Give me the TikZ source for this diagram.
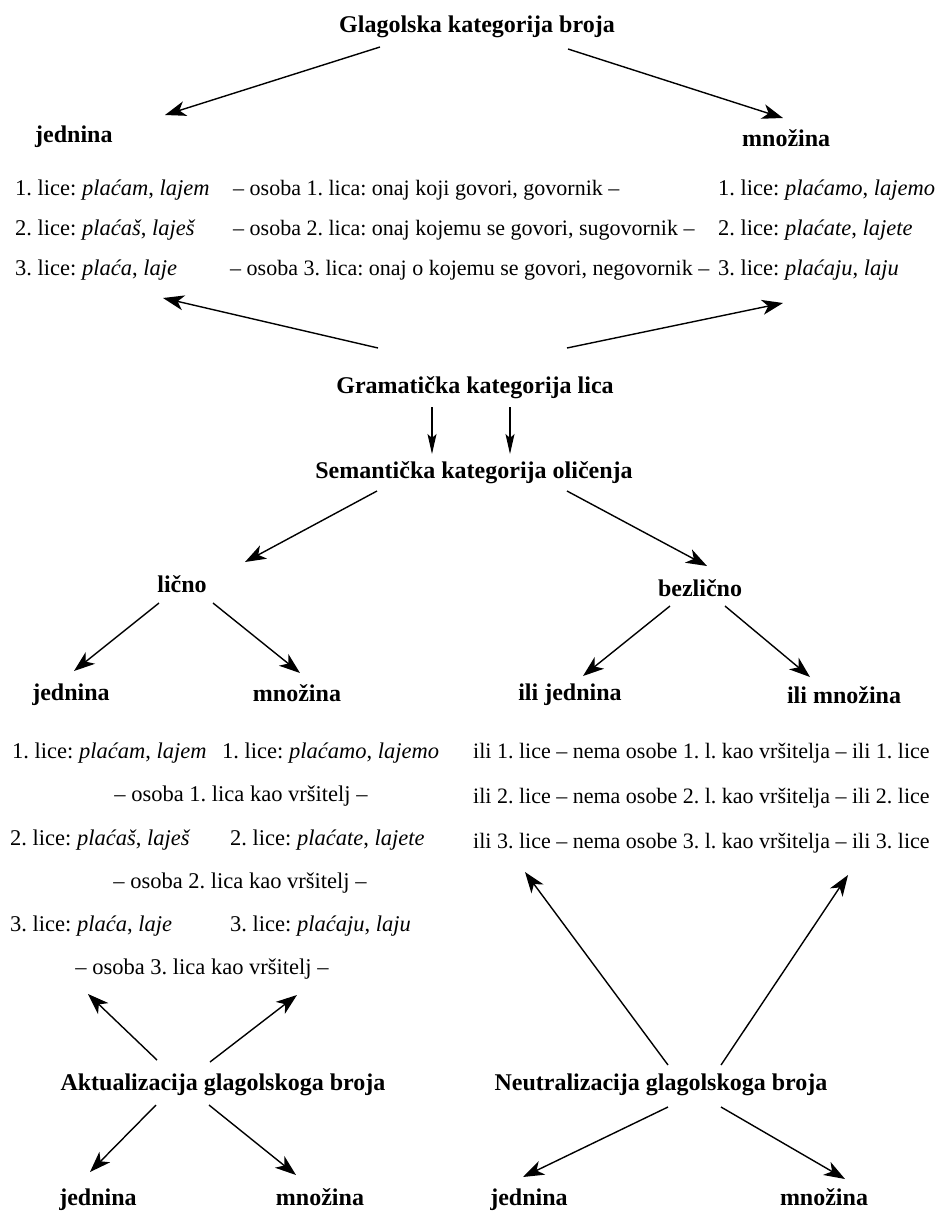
\documentclass[tikz,border=0pt]{standalone}
\usepackage{fontspec}
\setmainfont{Liberation Serif}
\frenchspacing
\usetikzlibrary{arrows.meta,calc}

\begin{document}
\begin{tikzpicture}[x = 1pt, y = -1pt,
        head/.style = {inner sep = 0pt, anchor = base, font = \fontsize{24}{28}\selectfont\bfseries},
        txt/.style = {inner sep = 0pt, anchor = base west, font = \fontsize{22.5}{27}\selectfont},
        small txt/.style = {txt, font = \fontsize{22}{26}\selectfont},
        link/.style = {-{Stealth[length = 21pt, width = 15pt, inset = 6pt]}, line width = 1.4pt},
        thin link/.style = {-{Stealth[length = 20pt, width = 9pt, inset = 4pt]}, line width = 1.2pt}]
        \useasboundingbox (0, 0) rectangle (941, 1211);

        % Nodes: glagolska kategorija broja
        \node [head] (gkb) at (477, 32) {Glagolska kategorija broja};
        \node [head, anchor = base west] (jedA) at (35, 142) {jednina};
        \node [head, anchor = base west] (mnoA) at (742, 146) {množina};

        \node [txt] (r1a) at (15, 195) {1. lice: \textit{plaćam}, \textit{lajem}};
        \node [small txt] (r1b) at (233, 195) {– osoba 1. lica: onaj koji govori, govornik –};
        \node [txt] (r1c) at (718, 195) {1. lice: \textit{plaćamo}, \textit{lajemo}};
        \node [txt] (r2a) at (15, 235) {2. lice: \textit{plaćaš}, \textit{laješ}};
        \node [small txt] (r2b) at (233, 235) {– osoba 2. lica: onaj kojemu se govori, sugovornik –};
        \node [txt] (r2c) at (718, 235) {2. lice: \textit{plaćate}, \textit{lajete}};
        \node [txt] (r3a) at (15, 275) {3. lice: \textit{plaća}, \textit{laje}};
        \node [small txt] (r3b) at (230, 275) {– osoba 3. lica: onaj o kojemu se govori, negovornik –};
        \node [txt] (r3c) at (718, 275) {3. lice: \textit{plaćaju}, \textit{laju}};

        % Nodes: lice i oličenje
        \node [head] (gkl) at (475, 393) {Gramatička kategorija lica};
        \node [head] (skl) at (474, 478) {Semantička kategorija oličenja};
        \node [head] (licno) at (182, 592) {lično};
        \node [head] (bezl) at (700, 596) {bezlično};
        \node [head] (jedB) at (71, 700) {jednina};
        \node [head] (mnoB) at (297, 701) {množina};
        \node [head] (ilij) at (570, 700) {ili jednina};
        \node [head] (ilim) at (844, 703) {ili množina};

        \node [txt] (l1a) at (12, 758) {1. lice: \textit{plaćam}, \textit{lajem}};
        \node [txt] (l1b) at (222, 758) {1. lice: \textit{plaćamo}, \textit{lajemo}};
        \node [txt, anchor = base] (o1) at (241, 801) {– osoba 1. lica kao vršitelj –};
        \node [txt] (l2a) at (10, 845) {2. lice: \textit{plaćaš}, \textit{laješ}};
        \node [txt] (l2b) at (230, 845) {2. lice: \textit{plaćate}, \textit{lajete}};
        \node [txt, anchor = base] (o2) at (240, 888) {– osoba 2. lica kao vršitelj –};
        \node [txt] (l3a) at (10, 931) {3. lice: \textit{plaća}, \textit{laje}};
        \node [txt] (l3b) at (230, 931) {3. lice: \textit{plaćaju}, \textit{laju}};
        \node [txt, anchor = base] (o3) at (202, 974) {– osoba 3. lica kao vršitelj –};

        \node [small txt] (i1) at (473, 758) {ili 1. lice – nema osobe 1. l. kao vršitelja – ili 1. lice};
        \node [small txt] (i2) at (473, 803) {ili 2. lice – nema osobe 2. l. kao vršitelja – ili 2. lice};
        \node [small txt] (i3) at (473, 848) {ili 3. lice – nema osobe 3. l. kao vršitelja – ili 3. lice};

        % Nodes: aktualizacija / neutralizacija
        \node [head] (akt) at (223, 1090) {Aktualizacija glagolskoga broja};
        \node [head] (jedC) at (98, 1205) {jednina};
        \node [head] (mnoC) at (320, 1205) {množina};
        \node [head] (neu) at (661, 1090) {Neutralizacija glagolskoga broja};
        \node [head] (jedD) at (529, 1205) {jednina};
        \node [head] (mnoD) at (824, 1205) {množina};

        % Draw the links
        \draw [link] ($(gkb.base) + (-97, 15)$) -- ($(jedA.base west) + (130, -27)$);
        \draw [link] ($(gkb.base) + (91, 17)$) -- ($(mnoA.base west) + (41, -28)$);
        \draw [link] ($(gkl.base) + (-97, -45)$) -- ($(r3a.base west) + (148, 23)$);
        \draw [link] ($(gkl.base) + (92, -45)$) -- ($(r3c.base west) + (65, 28)$);

        \draw [thin link] ($(gkl.base) + (-43, 14)$) -- ($(skl.base) + (-42, -24)$);
        \draw [thin link] ($(gkl.base) + (35, 14)$) -- ($(skl.base) + (36, -24)$);

        \draw [link] ($(skl.base) + (-97, 13)$) -- ($(licno.base) + (63, -30)$);
        \draw [link] ($(skl.base) + (93, 13)$) -- ($(bezl.base) + (7, -30)$);
        \draw [link] ($(licno.base) + (-23, 11)$) -- ($(jedB.base) + (3, -29)$);
        \draw [link] ($(licno.base) + (31, 11)$) -- ($(mnoB.base) + (3, -28)$);
        \draw [link] ($(bezl.base) + (-30, 10)$) -- ($(ilij.base) + (13, -24)$);
        \draw [link] ($(bezl.base) + (25, 10)$) -- ($(ilim.base) + (-34, -26)$);

        \draw [link] ($(akt.base) + (-66, -30)$) -- ($(o3.base) + (-114, 20)$);
        \draw [link] ($(akt.base) + (-13, -28)$) -- ($(o3.base) + (95, 21)$);
        \draw [link] ($(akt.base) + (-67, 15)$) -- ($(jedC.base) + (-8, -33)$);
        \draw [link] ($(akt.base) + (-14, 15)$) -- ($(mnoC.base) + (-24, -30)$);

        \draw [link] ($(neu.base) + (7, -25)$) -- ($(i3.base west) + (52, 24)$);
        \draw [link] ($(neu.base) + (60, -25)$) -- ($(i3.base west) + (375, 27)$);
        \draw [link] ($(neu.base) + (7, 17)$) -- ($(jedD.base) + (-6, -28)$);
        \draw [link] ($(neu.base) + (60, 17)$) -- ($(mnoD.base) + (21, -26)$);

    \end{tikzpicture}
\end{document}
